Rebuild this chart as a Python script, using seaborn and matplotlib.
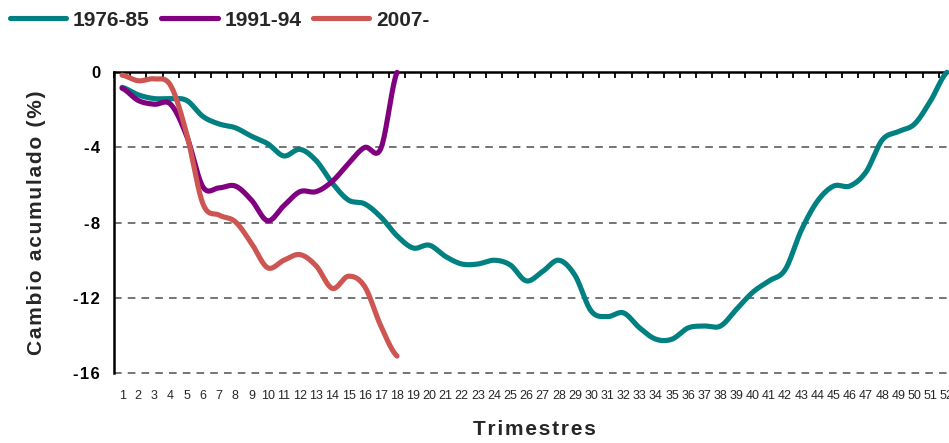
import numpy as np
import pandas as pd
import matplotlib
matplotlib.use("Agg")
import matplotlib.pyplot as plt
import seaborn as sns
from matplotlib.ticker import FixedLocator, NullFormatter
from matplotlib.lines import Line2D

# ---------------- data ----------------
quarters = list(range(1, 53))
serie_1976 = [-0.8, -1.2, -1.4, -1.4, -1.5, -2.35, -2.75, -2.95, -3.4, -3.8,
              -4.45, -4.1, -4.7, -5.9, -6.8, -7.0, -7.7, -8.7, -9.35, -9.2,
              -9.8, -10.2, -10.2, -10.0, -10.25, -11.1, -10.6, -10.0, -10.8, -12.7,
              -13.0, -12.8, -13.6, -14.2, -14.2, -13.6, -13.5, -13.5, -12.6, -11.7,
              -11.1, -10.5, -8.4, -6.85, -6.05, -6.05, -5.3, -3.6, -3.15, -2.75,
              -1.5, 0.0]
serie_1991 = [-0.85, -1.5, -1.7, -1.7, -3.4, -6.1, -6.15, -6.05, -6.8, -7.9,
              -7.1, -6.35, -6.35, -5.8, -4.85, -4.0, -4.05, 0.0]
serie_2007 = [-0.15, -0.45, -0.35, -0.7, -3.3, -7.0, -7.6, -7.95, -9.1, -10.4,
              -10.0, -9.7, -10.3, -11.5, -10.85, -11.4, -13.5, -15.1]
series_names = ["1976-85", "1991-94", "2007-"]
colors = ["#008080", "#800080", "#CD5552"]
y_ticks = [0, -4, -8, -12, -16]
x_labels = [str(q) for q in quarters]

HS = "\u200a"  # hair space, to mimic the wide letter spacing of the original


def spaced(s):
    return HS.join(list(s))


def smooth(xs, ys, n=20):
    """Catmull-Rom curve through the data points (Excel-like smoothed line)."""
    xs = np.asarray(xs, float)
    ys = np.asarray(ys, float)
    p = np.concatenate([[ys[0]], ys, [ys[-1]]])
    ox, oy = [], []
    for i in range(len(ys) - 1):
        p0, p1, p2, p3 = p[i], p[i + 1], p[i + 2], p[i + 3]
        t = np.linspace(0, 1, n, endpoint=False)
        y = 0.5 * ((2 * p1) + (-p0 + p2) * t + (2 * p0 - 5 * p1 + 4 * p2 - p3) * t ** 2
                   + (-p0 + 3 * p1 - 3 * p2 + p3) * t ** 3)
        x = xs[i] + (xs[i + 1] - xs[i]) * t
        ox.append(x)
        oy.append(y)
    ox.append([xs[-1]])
    oy.append([ys[-1]])
    return np.concatenate(ox), np.concatenate(oy)


frames = []
for name, vals in zip(series_names, [serie_1976, serie_1991, serie_2007]):
    sx, sy = smooth(quarters[:len(vals)], vals)
    frames.append(pd.DataFrame({"Trimestre": sx, "Cambio": sy, "Serie": name}))
df = pd.concat(frames, ignore_index=True)

# ---------------- plot ----------------
sns.set_style("white")
plt.rcParams["font.family"] = ["Liberation Sans", "DejaVu Sans"]

W, H = 949, 443
fig = plt.figure(figsize=(W / 100, H / 100), dpi=100)
ax_left, ax_right, ax_top, ax_bottom = 114, 955, 72.3, 373
ax = fig.add_axes([ax_left / W, 1 - ax_bottom / H, (ax_right - ax_left) / W,
                   (ax_bottom - ax_top) / H])

sns.lineplot(data=df, x="Trimestre", y="Cambio", hue="Serie", palette=colors,
             hue_order=series_names, sort=False, estimator=None, lw=3.7,
             ax=ax, legend=False)
for line in ax.get_lines():
    line.set_solid_capstyle("round")
    line.set_solid_joinstyle("round")
    line.set_clip_on(False)
    line.set_zorder(3)

ax.set_xlim(0.5, 52.5)
ax.set_ylim(-16, 0)

# grid lines (dashed) at y ticks below 0
for yv in y_ticks[1:]:
    ax.axhline(yv, color="#505050", lw=1.1, ls=(0, (5, 4)), zorder=1, clip_on=False)

# spines
for s in ["right", "bottom"]:
    ax.spines[s].set_visible(False)
for s in ["top", "left"]:
    ax.spines[s].set_color("black")
    ax.spines[s].set_linewidth(1.8)
    ax.spines[s].set_zorder(2)

# y axis
ax.set_yticks(y_ticks)
ax.set_yticklabels([spaced(str(v)) for v in y_ticks], fontweight="bold", fontsize=12)
ax.tick_params(axis="y", direction="out", length=5, width=1.3, pad=5, colors="black")

# x axis: labels at bottom at category centres, tick marks on the top line
ax.set_xticks(quarters)
ax.set_xticklabels(x_labels, fontsize=9)
ax.tick_params(axis="x", which="major", length=0, pad=12, labelsize=9)
ax.xaxis.set_minor_locator(FixedLocator(np.arange(0.5, 53, 1.0)))
ax.xaxis.set_minor_formatter(NullFormatter())
ax.tick_params(axis="x", which="minor", top=True, bottom=False, direction="in",
               length=4, width=1.3, color="black")

ax.set_xlabel(spaced("Trimestres"), fontsize=15, fontweight="bold")
ax.xaxis.set_label_coords(0.5, -0.155)
ax.set_ylabel(spaced("Cambio acumulado (%)"), fontsize=15, fontweight="bold")
ax.yaxis.set_label_coords(-0.081, 0.5)

# legend
handles = [Line2D([0], [0], color=c, lw=3.7, solid_capstyle="round") for c in colors]
leg = fig.legend(handles, series_names, loc="center left",
                 bbox_to_anchor=(10 / W, 1 - 20 / H), ncol=3, frameon=False,
                 borderpad=0, borderaxespad=0, handlelength=2.7, handletextpad=0.33,
                 columnspacing=0.55, prop={"family": "Liberation Sans", "weight": "bold",
                                           "size": 15})

fig.savefig("out.png", dpi=100)
